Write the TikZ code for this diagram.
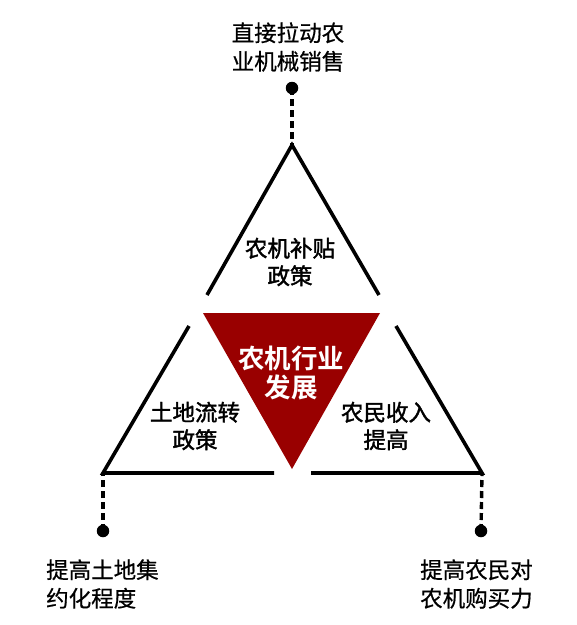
\documentclass[tikz,border=0pt]{standalone}
\usepackage{fontspec}
\setmainfont{Noto Sans CJK SC}
\newfontfamily\cjk[FakeBold=0.6]{Noto Sans CJK SC}
\newfontfamily\cjkm[FakeBold=1.6]{Noto Sans CJK SC}
\newfontfamily\cjkb{Noto Sans CJK SC Bold}
\begin{document}
\begin{tikzpicture}[x=1pt,y=-1pt,
  edge/.style={line width=3.6pt,line cap=butt,black},
  lead/.style={line width=3.4pt,dash pattern=on 7pt off 4pt,black},
  dot/.style={circle,fill=black,inner sep=0pt,minimum size=12.5pt},
  outer/.style={font=\cjk\fontsize{22.5}{28.5}\selectfont,inner sep=0pt,align=left},
  inner/.style={font=\cjkm\fontsize{22.5}{27.5}\selectfont,inner sep=0pt,align=center},
  core/.style={font=\cjkb\fontsize{26.5}{28.5}\selectfont,inner sep=0pt,align=center,text=white}]
\useasboundingbox (0,0) rectangle (577,625);
\fill[white] (0,0) rectangle (577,625);
% top triangle
\coordinate (ta) at (292,145);
\coordinate (tl) at (207,295);
\coordinate (tr) at (379,295);
% left triangle
\coordinate (la) at (189,326);
\coordinate (lc) at (103,473);
\coordinate (lb) at (274,473);
% right triangle
\coordinate (ra) at (396,326);
\coordinate (rc) at (482,473);
\coordinate (rb) at (311,473);
\draw[edge,line join=miter] (tl) -- (ta) -- (tr);
\draw[edge,line join=miter] (la) -- (lc) -- (lb);
\draw[edge,line join=miter] (ra) -- (rc) -- (rb);
% core
\coordinate (c1) at (203,313);
\coordinate (c2) at (380,313);
\coordinate (c3) at (292,469);
\fill[fill={rgb,255:red,153;green,0;blue,0}] (c1) -- (c2) -- (c3) -- cycle;
\node[core] (core) at (291,373) {农机行业\\发展};
% inner labels
\node[inner] (top) at (290,262) {农机补贴\\政策};
\node[inner] (left) at (195,426) {土地流转\\政策};
\node[inner] (right) at (386,426) {农民收入\\提高};
% dots and leads
\node[dot] (dt) at (292,88) {};
\node[dot] (dl) at (103,531) {};
\node[dot] (dr) at (481,531) {};
\draw[lead] (dt.center) -- (ta);
\draw[lead] (dl.center) -- (lc);
\draw[lead] (dr.center) -- (rc);
% outer labels
\node[outer,align=center] (ot) at (288,47) {直接拉动农\\业机械销售};
\node[outer,anchor=west] (ol) at (46,584) {提高土地集\\约化程度};
\node[outer,anchor=west] (or) at (420,584) {提高农民对\\农机购买力};
\end{tikzpicture}
\end{document}
